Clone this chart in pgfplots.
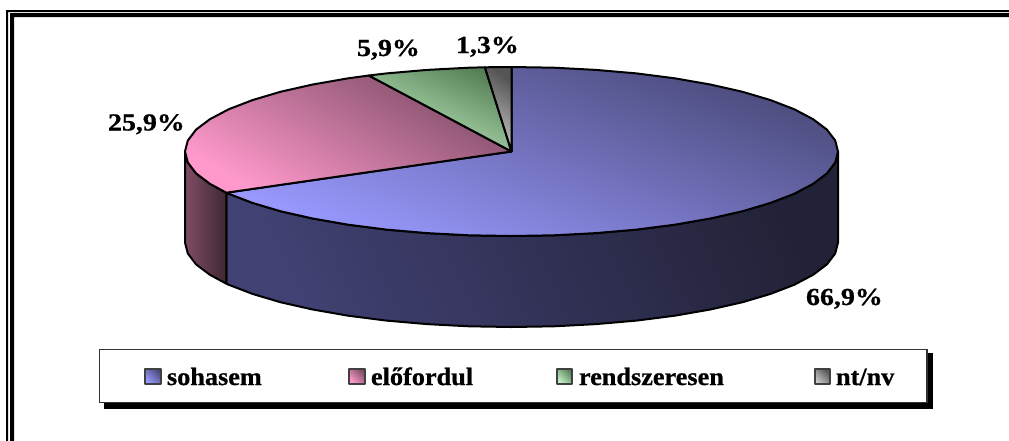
\documentclass[border=0pt]{standalone}
\usepackage{pgfplots}
\pgfplotsset{compat=1.18}
\usepackage{fontspec}
\newfontfamily\lab{Liberation Serif Bold}[FakeStretch=1.14,FakeBold=0.8]
\newfontfamily\leg{Liberation Serif Bold}[FakeStretch=1.05,FakeBold=0.8]
\definecolor{bL}{HTML}{9999FF}\definecolor{bD}{HTML}{4A4A7A}
\definecolor{pL}{HTML}{FF99CC}\definecolor{pD}{HTML}{7F4D66}
\definecolor{gL}{HTML}{C4F0C4}\definecolor{gD}{HTML}{567F56}
\definecolor{yL}{HTML}{C8C8C8}\definecolor{yD}{HTML}{555555}
\begin{document}
\begin{tikzpicture}
\begin{axis}[
  x=1pt,y=1pt,xmin=0,xmax=1009,ymin=0,ymax=441,y dir=reverse,
  axis lines=none,clip=false,anchor=origin,
  edge/.style={draw=black,line width=2pt,line join=round},
]
% page and frame
\addplot[fill=white,draw=none] coordinates {(0,0)(1009,0)(1009,441)(0,441)} --cycle;
\addplot[fill=black,draw=none] coordinates {(6,10)(1009,10)(1009,12)(8,12)(8,441)(6,441)} --cycle;
\addplot[fill=black,draw=none] coordinates {(10,13)(1009,13)(1009,17)(14,17)(14,441)(10,441)} --cycle;
% side walls
\addplot[edge,top color=bD!45!black,bottom color=bD!105!white,shading angle=-65] coordinates {
(838,151.5)(835.2,162.5)(826.9,173.4)(813.1,183.8)(794.3,193.75)(770.5,202.9)(742.4,211.25)(710.3,218.5)(674.75,224.7)(636.5,229.6)(596,233.1)(554.1,235.3)(511.5,236)(468.9,235.3)(427,233.1)(386.5,229.6)(348.25,224.7)(312.7,218.5)(280.6,211.25)(252.5,202.9)(228.7,193.75)(226.4,192.7)
(226.4,283.7)(228.7,284.75)(252.5,293.9)(280.6,302.25)(312.7,309.5)(348.25,315.7)(386.5,320.6)(427,324.1)(468.9,326.3)(511.5,327)(554.1,326.3)(596,324.1)(636.5,320.6)(674.75,315.7)(710.3,309.5)(742.4,302.25)(770.5,293.9)(794.3,284.75)(813.1,274.8)(826.9,264.4)(835.2,253.5)(838,242.5)} --cycle;
\addplot[edge,left color=pD,right color=pD!50!black] coordinates {
(226.4,192.7)(209.9,183.8)(196.1,173.4)(187.8,162.5)(185,151.5)
(185,242.5)(187.8,253.5)(196.1,264.4)(209.9,274.8)(226.4,283.7)} --cycle;
% top faces
\addplot[edge,top color=bD,bottom color=bL,shading angle=-20] coordinates {
(511.5,151.5)(511.5,67)(554.1,67.7)(596,69.9)(636.5,73.4)(674.75,78.3)(710.3,84.5)(742.4,91.75)(770.5,100.1)(794.3,109.25)(813.1,119.2)(826.9,129.6)(835.2,140.5)(838,151.5)(835.2,162.5)(826.9,173.4)(813.1,183.8)(794.3,193.75)(770.5,202.9)(742.4,211.25)(710.3,218.5)(674.75,224.7)(636.5,229.6)(596,233.1)(554.1,235.3)(511.5,236)(468.9,235.3)(427,233.1)(386.5,229.6)(348.25,224.7)(312.7,218.5)(280.6,211.25)(252.5,202.9)(228.7,193.75)(226.4,192.7)} --cycle;
\addplot[edge,top color=pD,bottom color=pL,shading angle=-30] coordinates {
(511.5,151.5)(226.4,192.7)(209.9,183.8)(196.1,173.4)(187.8,162.5)(185,151.5)(187.8,140.5)(196.1,129.6)(209.9,119.2)(228.7,109.25)(252.5,100.1)(280.6,91.75)(312.7,84.5)(348.25,78.3)(368.8,75.5)} --cycle;
\addplot[edge,top color=gD,bottom color=gL,shading angle=-25] coordinates {
(511.5,151.5)(368.8,75.5)(386.5,73.4)(427,69.9)(468.9,67.7)(484.9,67.3)} --cycle;
\addplot[edge,top color=yD,bottom color=yL,shading angle=-35] coordinates {
(511.5,151.5)(484.9,67.3)(498.4,67.1)(511.5,67)} --cycle;
% legend box
\addplot[fill=black,draw=none] coordinates {(104,353)(933,353)(933,409)(104,409)} --cycle;
\addplot[fill=white,draw=black!80,line width=1.4pt] coordinates {(99.5,349.5)(927,349.5)(927,402.5)(99.5,402.5)} --cycle;
\addplot[edge,draw=black!75,top color=bD,bottom color=bL,shading angle=-45] coordinates {(145,368.5)(160.5,368.5)(160.5,383.5)(145,383.5)} --cycle;
\addplot[edge,draw=black!75,top color=pD,bottom color=pL,shading angle=-45] coordinates {(349,368.5)(364.5,368.5)(364.5,383.5)(349,383.5)} --cycle;
\addplot[edge,draw=black!75,top color=gD,bottom color=gL,shading angle=-45] coordinates {(557,368.5)(572,368.5)(572,383.5)(557,383.5)} --cycle;
\addplot[edge,draw=black!75,top color=yD,bottom color=yL,shading angle=-45] coordinates {(814.5,368.5)(829.5,368.5)(829.5,383.5)(814.5,383.5)} --cycle;
% texts
\path[every node/.style={anchor=base west,inner sep=0pt,outer sep=0pt}]
 (axis cs:167,385) node {\leg\fontsize{25}{25}\selectfont sohasem}
 (axis cs:371,385) node {\leg\fontsize{25}{25}\selectfont előfordul}
 (axis cs:579,385) node {\leg\fontsize{25}{25}\selectfont rendszeresen}
 (axis cs:836,385) node {\leg\fontsize{25}{25}\selectfont nt/nv}
 (axis cs:806,305) node {\lab\fontsize{24.5}{25}\selectfont 66,9\%}
 (axis cs:108,130.5) node {\lab\fontsize{24.5}{25}\selectfont 25,9\%}
 (axis cs:357,56) node {\lab\fontsize{24.5}{25}\selectfont 5,9\%}
 (axis cs:456,53) node {\lab\fontsize{24.5}{25}\selectfont 1,3\%};
\end{axis}
\end{tikzpicture}
\end{document}
